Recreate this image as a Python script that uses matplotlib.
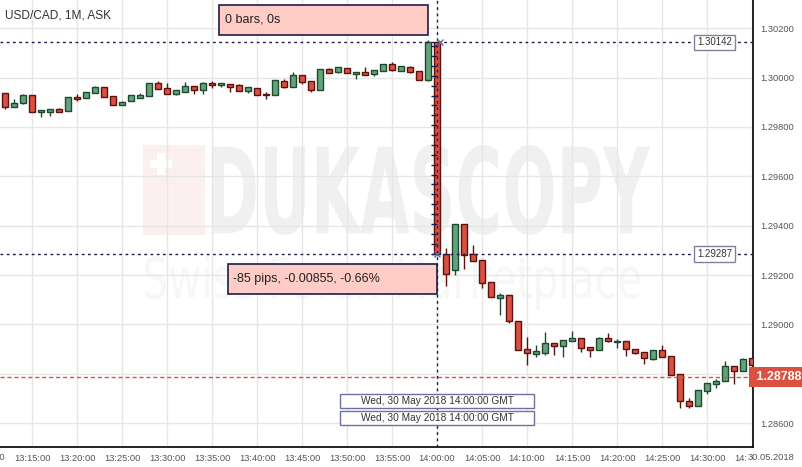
import matplotlib
matplotlib.use('Agg')
import matplotlib.pyplot as plt
import matplotlib.transforms as mtransforms
import numpy as np
from matplotlib.patches import Rectangle, PathPatch
from matplotlib.textpath import TextPath
from matplotlib.font_manager import FontProperties

plt.rcParams['font.family'] = ['Liberation Sans', 'DejaVu Sans']

# 1-minute USD/CAD ask candles, first one at 13:12
first_minute = 12  # minutes after 13:00
opens = [1.29936, 1.29882, 1.29896, 1.29928, 1.29862, 1.29862, 1.29871, 1.29863, 1.29920, 1.29916,
         1.29938, 1.29960, 1.29924, 1.29887, 1.29904, 1.29916, 1.29924, 1.29977, 1.29956, 1.29932,
         1.29940, 1.29964, 1.29948, 1.29977, 1.29968, 1.29972, 1.29968, 1.29944, 1.29956, 1.29933,
         1.29928, 1.29985, 1.29960, 1.30009, 1.29985, 1.29948, 1.30033, 1.30021, 1.30037, 1.30013,
         1.30021, 1.30013, 1.30025, 1.30053, 1.30025, 1.30041, 1.30025, 1.29989, 1.30142, 1.29284,
         1.29219, 1.29406, 1.29284, 1.29260, 1.29171, 1.29106, 1.29118, 1.29013, 1.28899, 1.28879,
         1.28883, 1.28924, 1.28912, 1.28932, 1.28944, 1.28908, 1.28895, 1.28944, 1.28928, 1.28932,
         1.28899, 1.28887, 1.28859, 1.28895, 1.28871, 1.28798, 1.28689, 1.28669, 1.28729, 1.28758,
         1.28770, 1.28830, 1.28810, 1.28863]
highs = [1.29936, 1.29913, 1.29933, 1.29928, 1.29867, 1.29871, 1.29876, 1.29920, 1.29933, 1.29940,
         1.29964, 1.29960, 1.29924, 1.29904, 1.29928, 1.29936, 1.29977, 1.29985, 1.29978, 1.29948,
         1.29981, 1.29964, 1.29981, 1.29985, 1.29977, 1.29972, 1.29972, 1.29960, 1.29956, 1.29940,
         1.29989, 1.29993, 1.30021, 1.30009, 1.29985, 1.30033, 1.30037, 1.30041, 1.30037, 1.30021,
         1.30041, 1.30029, 1.30053, 1.30062, 1.30045, 1.30045, 1.30025, 1.30150, 1.30142, 1.29308,
         1.29406, 1.29406, 1.29321, 1.29260, 1.29171, 1.29126, 1.29118, 1.29013, 1.28948, 1.28916,
         1.28968, 1.28924, 1.28936, 1.28972, 1.28944, 1.28908, 1.28948, 1.28964, 1.28940, 1.28932,
         1.28899, 1.28887, 1.28895, 1.28916, 1.28871, 1.28798, 1.28701, 1.28733, 1.28762, 1.28778,
         1.28851, 1.28830, 1.28863, 1.28863]
lows = [1.29874, 1.29882, 1.29891, 1.29859, 1.29839, 1.29843, 1.29859, 1.29863, 1.29906, 1.29916,
        1.29938, 1.29920, 1.29887, 1.29887, 1.29904, 1.29916, 1.29924, 1.29952, 1.29932, 1.29928,
        1.29940, 1.29934, 1.29934, 1.29956, 1.29960, 1.29942, 1.29944, 1.29936, 1.29928, 1.29912,
        1.29928, 1.29956, 1.29960, 1.29972, 1.29940, 1.29948, 1.30017, 1.30017, 1.30017, 1.29993,
        1.30009, 1.30005, 1.30025, 1.30025, 1.30025, 1.30017, 1.29989, 1.29985, 1.29280, 1.29155,
        1.29199, 1.29223, 1.29256, 1.29146, 1.29110, 1.29037, 1.29005, 1.28895, 1.28835, 1.28867,
        1.28875, 1.28875, 1.28867, 1.28932, 1.28887, 1.28867, 1.28895, 1.28928, 1.28904, 1.28871,
        1.28879, 1.28839, 1.28855, 1.28867, 1.28794, 1.28660, 1.28660, 1.28669, 1.28717, 1.28741,
        1.28770, 1.28758, 1.28810, 1.28835]
closes = [1.29882, 1.29896, 1.29928, 1.29859, 1.29867, 1.29871, 1.29862, 1.29920, 1.29914, 1.29940,
          1.29960, 1.29920, 1.29887, 1.29900, 1.29928, 1.29928, 1.29977, 1.29952, 1.29932, 1.29948,
          1.29964, 1.29948, 1.29977, 1.29968, 1.29977, 1.29960, 1.29944, 1.29960, 1.29928, 1.29928,
          1.29989, 1.29960, 1.30009, 1.29981, 1.29948, 1.30033, 1.30017, 1.30041, 1.30017, 1.30021,
          1.30009, 1.30029, 1.30053, 1.30029, 1.30045, 1.30021, 1.29989, 1.30142, 1.29287, 1.29203,
          1.29406, 1.29280, 1.29256, 1.29167, 1.29110, 1.29118, 1.29013, 1.28895, 1.28883, 1.28891,
          1.28924, 1.28912, 1.28936, 1.28944, 1.28904, 1.28895, 1.28944, 1.28932, 1.28932, 1.28899,
          1.28883, 1.28863, 1.28895, 1.28867, 1.28794, 1.28689, 1.28669, 1.28733, 1.28762, 1.28770,
          1.28830, 1.28810, 1.28859, 1.28835]

y_ticks = [1.28600, 1.28800, 1.29000, 1.29200, 1.29400, 1.29600, 1.29800, 1.30000, 1.30200]
x_tick_minutes = list(range(15, 96, 5))
measure_start = 1.30142
measure_end = 1.29287
measure_minute = 60
last_price = 1.28788

W, H = 803, 467
fig = plt.figure(figsize=(W / 100, H / 100), dpi=100)
ax = fig.add_axes([0, 20 / H, 753 / W, 447 / H])
# pixel coordinates, origin top-left, for the overlay boxes
px = mtransforms.Affine2D().scale(1 / W, -1 / H).translate(0, 1) + fig.transFigure

navy = '#1c1c4c'

# watermark
def watermark(text, left, top, width, height, color, weight='bold'):
    tp = TextPath((0, 0), text, size=1, prop=FontProperties(family='DejaVu Sans', weight=weight))
    ext = tp.get_extents()
    t = (mtransforms.Affine2D().translate(-ext.x0, -ext.y0)
         .scale(width / ext.width, -height / ext.height).translate(left, top + height) + px)
    fig.add_artist(PathPatch(tp, transform=t, fc=color, ec='none', zorder=0))

fig.add_artist(Rectangle((143, 145), 62, 90, transform=px, fc='#fcefef', ec='none', zorder=0))
fig.add_artist(Rectangle((150, 160), 22, 8, transform=px, fc='white', ec='none', zorder=0))
fig.add_artist(Rectangle((157, 153), 8, 22, transform=px, fc='white', ec='none', zorder=0))
watermark('DUKASCOPY', 212, 145, 438, 90, '#f0f0f0')
watermark('Swiss Forex Marketplace', 145, 255, 495, 55, '#f5f8f5', weight='normal')
ax.patch.set_alpha(0)

x = first_minute + np.arange(len(opens))
o = np.array(opens)
c = np.array(closes)
up = c >= o
fill = np.where(up, '#62a37c', '#d9513f')
edge = np.where(up, '#1d4a2e', '#5c1010')

ax.vlines(x, lows, highs, colors=edge, lw=1, zorder=3)
ax.bar(x, np.maximum(np.abs(c - o), 0.00002), bottom=np.minimum(o, c), width=0.72,
       color=fill, edgecolor=edge, linewidth=1, zorder=4)

ax.set_xlim(11.444, 95.111)
ax.set_ylim(1.28504, 1.303138)

ax.set_xticks(x_tick_minutes)
ax.set_xticklabels(['%d:%02d:00' % (13 + m // 60, m % 60) for m in x_tick_minutes])
ax.set_yticks(y_ticks)
ax.set_yticklabels(['%.5f' % v for v in y_ticks])
ax.yaxis.tick_right()
ax.tick_params(length=0, labelsize=6.7, labelcolor='#555555')
ax.tick_params(axis='x', pad=5)
ax.tick_params(axis='y', pad=5)
ax.grid(color='#e6e6e6', lw=1, zorder=1)
ax.set_axisbelow(True)
for s in ['left', 'top']:
    ax.spines[s].set_visible(False)
for s in ['right', 'bottom']:
    ax.spines[s].set_color('black')
    ax.spines[s].set_linewidth(1.2)

# measurement tool
ax.axvline(measure_minute, color=navy, ls=(0, (2, 2.5)), lw=1, zorder=6)
ax.axhline(measure_start, color=navy, ls=(0, (2, 2.5)), lw=1, zorder=6)
ax.axhline(measure_end, color=navy, ls=(0, (2, 2.5)), lw=1, zorder=6)
ax.hlines(np.arange(measure_end, measure_start, 0.0004), measure_minute - 0.7, measure_minute,
          color=navy, lw=1, zorder=6)
ax.plot([measure_minute + 0.3, measure_minute], [measure_start, measure_end], 'x',
        color='#6a6a9a', ms=4, mew=1, zorder=7)

ax.axhline(last_price, color='#d9513f', ls=(0, (3, 2)), lw=1, zorder=5)

for p in [measure_start, measure_end]:
    ax.text(90.83, p, '%.5f' % p, ha='center', va='center', fontsize=7, color='#333333', zorder=8,
            bbox=dict(boxstyle='square,pad=0.3', fc='white', ec='#8080a0', lw=1))

ax.text(1.0, last_price, ' %.5f' % last_price,
        transform=mtransforms.blended_transform_factory(ax.transAxes, ax.transData),
        ha='left', va='center', fontsize=9, fontweight='bold', color='white', clip_on=False, zorder=9,
        bbox=dict(boxstyle='square,pad=0.3', fc='#d9513f', ec='none'))

# info boxes
fig.add_artist(Rectangle((219, 5), 209, 30, transform=px, fc='#ffccc6', ec=navy, lw=1.2, zorder=8))
fig.text(225, 20, '0 bars, 0s', transform=px, va='center', fontsize=9, color='#222222', zorder=9)
fig.add_artist(Rectangle((228, 264), 209, 30, transform=px, fc='#ffccc6', ec=navy, lw=1.2, zorder=8))
fig.text(233, 279, '-85 pips, -0.00855, -0.66%', transform=px, va='center', fontsize=9,
         color='#222222', zorder=9)

for top in [394, 411]:
    fig.add_artist(Rectangle((340, top), 194, 14, transform=px, fc='white', ec='#7070a0', lw=1, zorder=5))
    fig.text(437, top + 7, 'Wed, 30 May 2018 14:00:00 GMT', transform=px, ha='center', va='center',
             fontsize=7.3, color='#333333', zorder=5.5)

fig.text(5, 15, 'USD/CAD, 1M, ASK', transform=px, va='center', fontsize=8.6, color='#333333')
fig.text(-13, 457, '13:10:00', transform=px, ha='center', va='center', fontsize=6.7, color='#555555')
fig.text(748, 457, '30.05.2018', transform=px, ha='left', va='center', fontsize=6.7, color='#555555',
         bbox=dict(boxstyle='square,pad=0.1', fc='white', ec='none'), zorder=10)

fig.savefig('out.png', dpi=100)
